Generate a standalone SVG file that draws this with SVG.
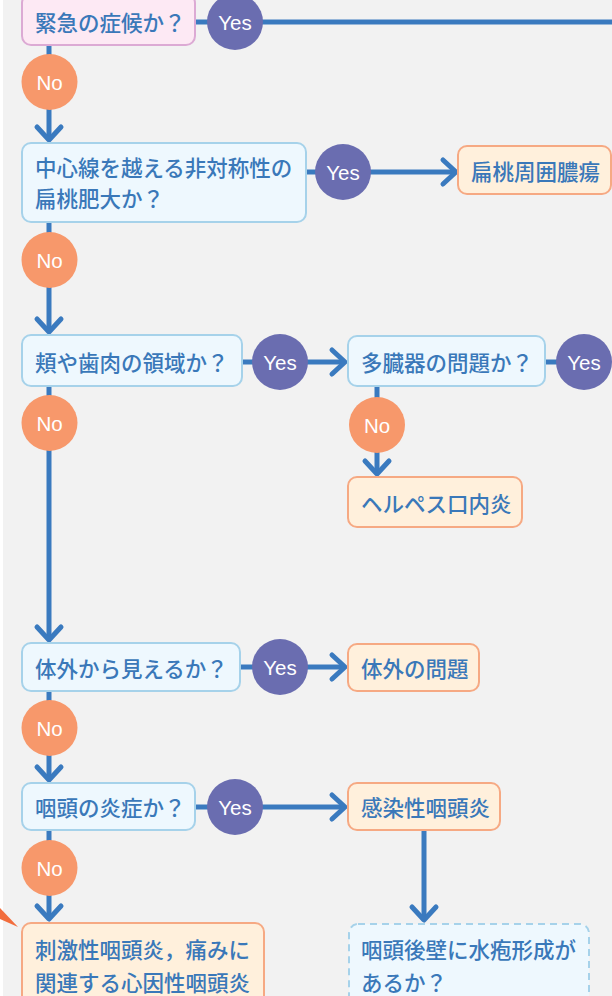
<svg xmlns="http://www.w3.org/2000/svg" width="612" height="996" viewBox="0 0 612 996">
<style>
.q{fill:#eef8fe;stroke:#a6d2ea;stroke-width:2}
.qd{fill:#eef8fe;stroke:#a6d2ea;stroke-width:2;stroke-dasharray:7 5}
.r{fill:#fff0dc;stroke:#f6a983;stroke-width:2}
.p{fill:#fde9f4;stroke:#dcaad4;stroke-width:2}
.t{font-family:"Noto Sans CJK JP","Noto Sans",sans-serif;font-size:21.5px;font-weight:500;fill:#3a78b9;dominant-baseline:central}
.yes{fill:#6a6db0}
.no{fill:#f7986b}
.lbl{font-family:"Liberation Sans",Arial,sans-serif;font-size:20.5px;fill:#ffffff;text-anchor:middle;dominant-baseline:central}
.c{fill:none;stroke:#3a7abf;stroke-width:5}
.ah{fill:none;stroke:#3a7abf;stroke-width:5;stroke-linecap:round;stroke-linejoin:round}
</style>
<defs>
<marker id="arr" markerUnits="userSpaceOnUse" markerWidth="40" markerHeight="40" refX="0" refY="0" viewBox="-20 -20 40 40" orient="auto" overflow="visible">
<path class="ah" d="M-13 -12 L0 0 L-13 12"/>
</marker>
</defs>
<rect x="0" y="0" width="612" height="996" fill="#ffffff"/>
<rect x="3" y="0" width="609" height="996" fill="#f2f2f2"/>
<path d="M0 908 L18 927 L0 919 Z" fill="#f26d3d"/>

<g id="connectors">
<path class="c" d="M195 22 L612 22"/>
<path class="c" d="M49 45 L49 140" marker-end="url(#arr)"/>
<path class="c" d="M306 172 L456 172" marker-end="url(#arr)"/>
<path class="c" d="M49 222 L49 332" marker-end="url(#arr)"/>
<path class="c" d="M242 362 L345 362" marker-end="url(#arr)"/>
<path class="c" d="M545 362 L560 362"/>
<path class="c" d="M377 386 L377 474" marker-end="url(#arr)"/>
<path class="c" d="M49 386 L49 640" marker-end="url(#arr)"/>
<path class="c" d="M240 667 L345 667" marker-end="url(#arr)"/>
<path class="c" d="M49 691 L49 780" marker-end="url(#arr)"/>
<path class="c" d="M195 807 L345 807" marker-end="url(#arr)"/>
<path class="c" d="M49 830 L49 919" marker-end="url(#arr)"/>
<path class="c" d="M424 830 L424 920" marker-end="url(#arr)"/>
</g>

<g id="n1"><rect class="p" x="22" y="-6" width="173" height="51" rx="9"/><text class="t" x="35" y="21">緊急の症候か？</text></g>
<g id="y1"><circle class="yes" cx="235" cy="22" r="28"/><text class="lbl" x="235" y="22">Yes</text></g>
<g id="no1"><circle class="no" cx="49.5" cy="82" r="28"/><text class="lbl" x="49.5" y="82">No</text></g>

<g id="n2"><rect class="q" x="22" y="143" width="284" height="79" rx="9"/><text class="t" x="35" y="166">中心線を越える非対称性の</text><text class="t" x="35" y="197">扁桃肥大か？</text></g>
<g id="y2"><circle class="yes" cx="343" cy="172" r="28"/><text class="lbl" x="343" y="172">Yes</text></g>
<g id="n2r"><rect class="r" x="458" y="146" width="153" height="48" rx="9"/><text class="t" x="471" y="170">扁桃周囲膿瘍</text></g>
<g id="no2"><circle class="no" cx="49.5" cy="260" r="28"/><text class="lbl" x="49.5" y="260">No</text></g>

<g id="n3"><rect class="q" x="22" y="335" width="220" height="51" rx="9"/><text class="t" x="35" y="361">頬や歯肉の領域か？</text></g>
<g id="y3"><circle class="yes" cx="280" cy="362" r="28"/><text class="lbl" x="280" y="362">Yes</text></g>
<g id="n3r"><rect class="q" x="348" y="336" width="197" height="50" rx="9"/><text class="t" x="361" y="361">多臓器の問題か？</text></g>
<g id="y4"><circle class="yes" cx="584" cy="362" r="28"/><text class="lbl" x="584" y="362">Yes</text></g>
<g id="no4"><circle class="no" cx="377" cy="425" r="28"/><text class="lbl" x="377" y="425">No</text></g>
<g id="n3rr"><rect class="r" x="348" y="477" width="174" height="50" rx="9"/><text class="t" x="361" y="502">ヘルペス口内炎</text></g>
<g id="no3"><circle class="no" cx="49.5" cy="423" r="28"/><text class="lbl" x="49.5" y="423">No</text></g>

<g id="n4"><rect class="q" x="22" y="643" width="218" height="48" rx="9"/><text class="t" x="35" y="667">体外から見えるか？</text></g>
<g id="y5"><circle class="yes" cx="280" cy="667" r="28"/><text class="lbl" x="280" y="667">Yes</text></g>
<g id="n4r"><rect class="r" x="348" y="644" width="131" height="47" rx="9"/><text class="t" x="361" y="667">体外の問題</text></g>
<g id="no5"><circle class="no" cx="49.5" cy="728" r="28"/><text class="lbl" x="49.5" y="728">No</text></g>

<g id="n5"><rect class="q" x="22" y="783" width="173" height="47" rx="9"/><text class="t" x="35" y="806">咽頭の炎症か？</text></g>
<g id="y6"><circle class="yes" cx="235" cy="807" r="28"/><text class="lbl" x="235" y="807">Yes</text></g>
<g id="n5r"><rect class="r" x="348" y="783" width="152" height="47" rx="9"/><text class="t" x="361" y="806">感染性咽頭炎</text></g>
<g id="no6"><circle class="no" cx="49.5" cy="868" r="28"/><text class="lbl" x="49.5" y="868">No</text></g>

<g id="n6"><rect class="r" x="22" y="923" width="242" height="90" rx="9"/><text class="t" x="35" y="948">刺激性咽頭炎，痛みに</text><text class="t" x="35" y="981">関連する心因性咽頭炎</text></g>
<g id="n7"><rect class="qd" x="349" y="924" width="240" height="90" rx="9"/><text class="t" x="361" y="948">咽頭後壁に水疱形成が</text><text class="t" x="361" y="981">あるか？</text></g>
</svg>
